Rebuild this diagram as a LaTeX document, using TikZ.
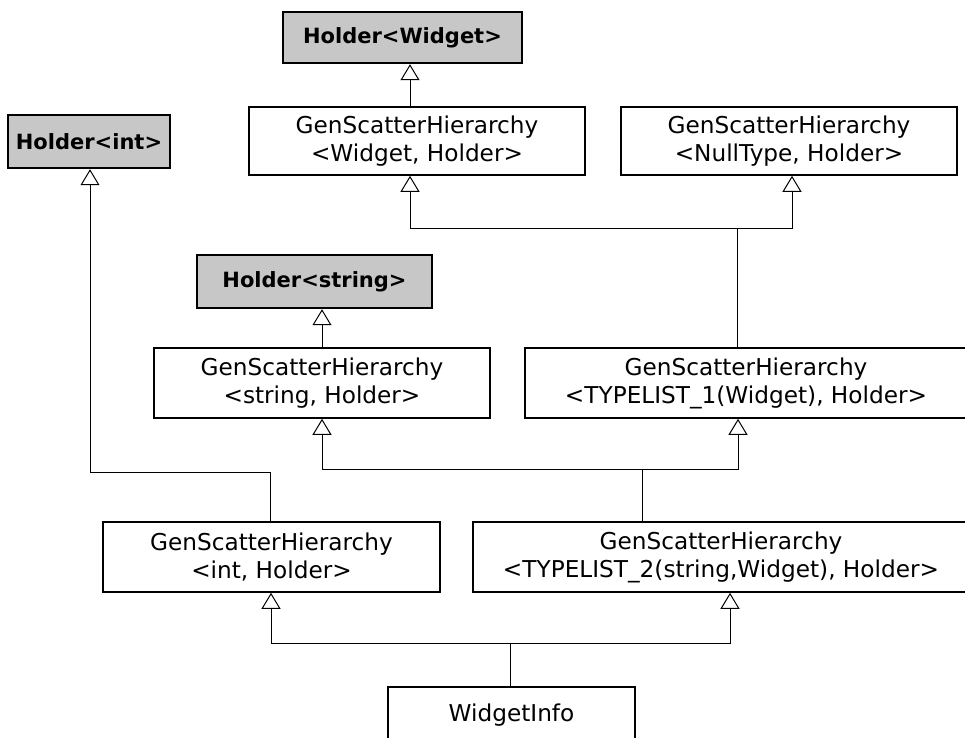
\documentclass[tikz,border=0pt]{standalone}
\usepackage{fontspec}
\usetikzlibrary{arrows.meta}
\newfontfamily\dejavu{DejaVu Sans}
\definecolor{holdergray}{gray}{0.78}
\tikzset{
  cls/.style={draw, line width=1.6pt, fill=white, inner sep=0pt, align=center,
    font=\dejavu\fontsize{23.2}{28}\selectfont},
  hold/.style={draw, line width=2.4pt, fill=holdergray, inner sep=0pt,
    font=\dejavu\bfseries\fontsize{21}{25}\selectfont},
  inh/.style={line width=1pt, -{Triangle[open, width=19pt, length=16pt, line width=1pt]}},
  ln/.style={line width=1pt}
}
\begin{document}
\begin{tikzpicture}[x=1pt, y=-1pt]
\useasboundingbox (0,0) rectangle (965,737);
\clip (0,0) rectangle (965,737);
% nodes
\node[hold, minimum width=239pt, minimum height=51pt] (hw) at (402.5,37.5) {Holder<Widget>};
\node[hold, minimum width=162pt, minimum height=53pt] (hint) at (89,141.5) {Holder<int>};
\node[cls, minimum width=336pt, minimum height=68pt] (gw) at (417,141) {GenScatterHierarchy\\<Widget, Holder>};
\node[cls, minimum width=336pt, minimum height=68pt] (gn) at (789,141) {GenScatterHierarchy\\<NullType, Holder>};
\node[hold, minimum width=235pt, minimum height=53pt] (hs) at (314.5,281.5) {Holder<string>};
\node[cls, minimum width=336pt, minimum height=70pt] (gs) at (322,383) {GenScatterHierarchy\\<string, Holder>};
\node[cls, minimum width=442pt, minimum height=70pt] (tl1) at (746,383) {GenScatterHierarchy\\<TYPELIST\_1(Widget), Holder>};
\node[cls, minimum width=337pt, minimum height=70pt] (gint) at (271.5,557) {GenScatterHierarchy\\<int, Holder>};
\node[cls, minimum width=496pt, minimum height=70pt] (tl2) at (721,557) {GenScatterHierarchy\\<TYPELIST\_2(string,Widget), Holder>};
\node[cls, minimum width=247pt, minimum height=56pt] (wi) at (511.5,715) {WidgetInfo};
% helper coordinates
\coordinate (xa) at (410,0);
\coordinate (xb) at (792,0);
\coordinate (j1) at (737,228);
\coordinate (xc) at (322,0);
\coordinate (xd) at (738,0);
\coordinate (j2) at (642,469);
\coordinate (xe) at (271,0);
\coordinate (xf) at (730,0);
\coordinate (j3) at (510,643);
\coordinate (xg) at (270,0);
\coordinate (bend) at (90,472);
% connectors
\draw[inh] (gw.north -| xa) -- (hw.south -| xa);
\draw[ln] (tl1.north -| j1) -- (j1);
\draw[inh] (j1) -| (gw.south -| xa);
\draw[inh] (j1) -| (gn.south -| xb);
\draw[inh] (gs.north -| xc) -- (hs.south -| xc);
\draw[ln] (tl2.north -| j2) -- (j2);
\draw[inh] (j2) -| (gs.south -| xc);
\draw[inh] (j2) -| (tl1.south -| xd);
\draw[ln] (wi.north -| j3) -- (j3);
\draw[inh] (j3) -| (gint.south -| xe);
\draw[inh] (j3) -| (tl2.south -| xf);
\draw[inh] (gint.north -| xg) |- (bend) -- (hint.south -| bend);
\end{tikzpicture}
\end{document}
